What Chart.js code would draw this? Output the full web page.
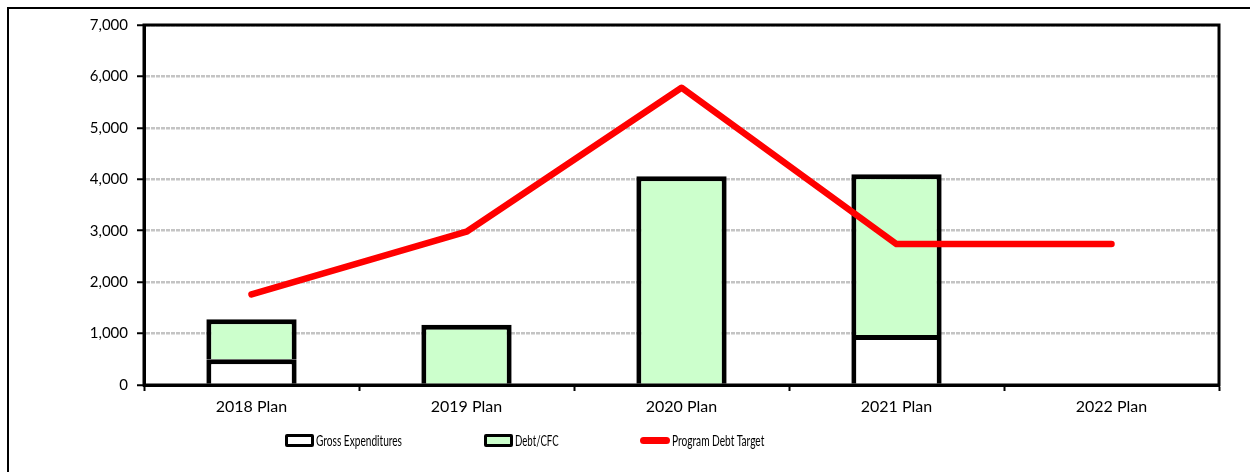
<!DOCTYPE html>
<html>
<head>
<meta charset="utf-8">
<script src="https://cdn.jsdelivr.net/npm/chart.js@4"></script>
<style>
  body { margin: 0; background: #fff; overflow: hidden; }
  #wrap { position: relative; width: 1250px; height: 472px; }
  #frame { position: absolute; left: 7px; top: 7px; width: 1300px; height: 500px;
           border-top: 2px solid #000; border-left: 2px solid #000; }
  #myChart { position: absolute; left: 0; top: 0; }
  .lg { position: absolute; font-family: Lato, sans-serif; font-size: 16px; color: #000;
        line-height: 18px; top: 431px; white-space: nowrap; transform-origin: 0 50%; }
  .box { position: absolute; width: 23px; height: 7px; border: 3px solid #000; border-radius: 2px; top: 434px; }
  .red { position: absolute; width: 30px; height: 7px; background: #ff0000; border-radius: 4px; top: 437px; }
</style>
</head>
<body>
<div id="wrap">
  <div id="frame"></div>
  <canvas id="myChart" width="1250" height="472"></canvas>
  <div class="box" style="left:285px; background:#fff;"></div>
  <div class="lg" style="left:316px;" data-w="86">Gross Expenditures</div>
  <div class="box" style="left:484px; background:#ccffcc;"></div>
  <div class="lg" style="left:515px;" data-w="44">Debt/CFC</div>
  <div class="red" style="left:640px;"></div>
  <div class="lg" style="left:672px;" data-w="92">Program Debt Target</div>
</div>
<script>
// Datos
const categories = ["2018 Plan", "2019 Plan", "2020 Plan", "2021 Plan", "2022 Plan"];
const grossExpenditures = [500, null, null, 970, null];
const debtCfc = [780, 1170, 4060, 3130, null];
const programDebtTarget = [1760, 2980, 5780, 2740, 2740];
const yTickLabels = ["0", "1,000", "2,000", "3,000", "4,000", "5,000", "6,000", "7,000"];

// Texto de la leyenda estrecho, como en el original
document.querySelectorAll(".lg").forEach((el) => {
    const k = Number(el.dataset.w) / el.offsetWidth;
    el.style.transform = "scaleX(" + k + ")";
});

// Marco negro alrededor del area del grafico
const plotFrame = {
    id: "plotFrame",
    afterDatasetsDraw(chart) {
        const a = chart.chartArea;
        const c = chart.ctx;
        c.save();
        c.strokeStyle = "#000";
        c.lineWidth = 3;
        c.strokeRect(a.left, a.top, a.right - a.left, a.bottom - a.top);
        c.restore();
    }
};

let ctx = document.getElementById("myChart");
let myChart = new Chart(ctx, {
    type: "bar",
    data: {
        labels: categories,
        datasets: [{
            label: "Gross Expenditures",
            data: grossExpenditures,
            backgroundColor: "#ffffff",
            borderColor: "#000000",
            borderWidth: 5,
            order: 1
        }, {
            label: "Debt/CFC",
            data: debtCfc,
            backgroundColor: "#ccffcc",
            borderColor: "#000000",
            borderWidth: 5,
            order: 1
        }, {
            type: "line",
            label: "Program Debt Target",
            data: programDebtTarget,
            borderColor: "#ff0000",
            backgroundColor: "#ff0000",
            borderWidth: 6.5,
            borderCapStyle: "round",
            borderJoinStyle: "round",
            pointRadius: 0,
            tension: 0,
            order: 0
        }]
    },
    options: {
        responsive: false,
        animation: false,
        categoryPercentage: 1,
        barPercentage: 0.42,
        layout: { padding: { left: 0, top: 25, right: 31, bottom: 47 } },
        plugins: {
            legend: { display: false },
            tooltip: { enabled: false }
        },
        scales: {
            x: {
                stacked: true,
                afterFit: (s) => { s.height = 40; },
                grid: { drawOnChartArea: false, drawTicks: true, tickLength: 6, tickColor: "#000", tickWidth: 2 },
                border: { color: "#000", width: 3 },
                ticks: { color: "#000", font: { family: "Lato", size: 16 }, padding: 6, maxRotation: 0 }
            },
            y: {
                stacked: true,
                min: 0,
                max: 7000,
                afterFit: (s) => { s.width = 144; },
                grid: { color: "#c4c4c4", lineWidth: 2.5, tickLength: 7, tickColor: "#000", tickWidth: 2 },
                border: { color: "#000", width: 3, dash: [4, 1] },
                ticks: {
                    stepSize: 1000,
                    color: "#000",
                    padding: 9,
                    font: { family: "Lato", size: 15 },
                    callback: (v) => yTickLabels[v / 1000]
                }
            }
        }
    },
    plugins: [plotFrame]
});
</script>
</body>
</html>
